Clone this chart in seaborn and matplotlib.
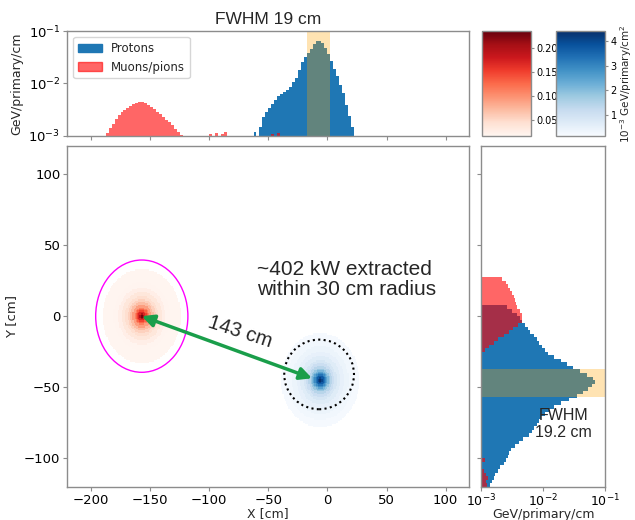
import numpy as np
import matplotlib
matplotlib.use("Agg")
import matplotlib.pyplot as plt
from matplotlib.patches import Ellipse, Patch
import seaborn as sns

# ---- data ----
bin_w = 2.5

# top panel, deposited energy along X (GeV/primary/cm), bins left to right
proton_x_start = -62.5
proton_x = [1.2e-3, 0.9e-3, 1.5e-3, 2.3e-3, 2.8e-3, 3.4e-3, 4.0e-3, 4.8e-3, 5.7e-3,
            6.4e-3, 6.9e-3, 7.5e-3, 8.6e-3, 1.05e-2, 1.3e-2, 1.8e-2, 2.6e-2, 3.2e-2,
            3.8e-2, 4.6e-2, 5.6e-2, 6.5e-2, 6.6e-2, 6.0e-2, 4.8e-2, 3.6e-2, 2.7e-2,
            1.9e-2, 1.4e-2, 9.5e-3, 6.5e-3, 3.8e-3, 2.4e-3, 1.5e-3]
muon_x_start = -187.5
muon_x = [1.15e-3, 1.4e-3, 1.7e-3, 2.1e-3, 2.45e-3, 2.8e-3, 3.1e-3, 3.45e-3, 3.75e-3,
          4.0e-3, 4.3e-3, 4.5e-3, 4.45e-3, 4.2e-3, 3.9e-3, 3.5e-3, 3.2e-3, 2.9e-3,
          2.6e-3, 2.3e-3, 2.0e-3, 1.8e-3, 1.6e-3, 1.35e-3, 1.2e-3, 1.05e-3]
muon_x_stray_pos = [-98.75, -93.75, -88.75, -86.25, -46.25, -41.25]
muon_x_stray = [1.1e-3, 1.15e-3, 1.1e-3, 1.2e-3, 1.1e-3, 1.15e-3]

# right panel, deposited energy along Y (GeV/primary/cm), bins top to bottom
proton_y_top = 7.5
proton_y = [2.6e-3, 3.2e-3, 3.8e-3, 4.2e-3, 4.5e-3, 5.0e-3, 5.6e-3, 6.2e-3, 7.0e-3,
            7.8e-3, 8.6e-3, 9.5e-3, 1.05e-2, 1.2e-2, 1.5e-2, 1.9e-2, 2.4e-2, 3.0e-2,
            3.9e-2, 5.0e-2, 6.3e-2, 6.8e-2, 6.0e-2, 5.2e-2, 4.4e-2, 3.5e-2, 2.6e-2,
            1.9e-2, 1.5e-2, 1.25e-2, 1.05e-2, 9.3e-3, 8.5e-3, 7.8e-3, 7.2e-3, 6.6e-3,
            5.8e-3, 4.8e-3, 4.1e-3, 3.5e-3, 3.0e-3, 2.8e-3, 2.7e-3, 2.5e-3, 2.3e-3,
            2.0e-3, 1.9e-3, 1.7e-3, 1.6e-3, 1.5e-3, 1.4e-3]
muon_y_top = 27.5
muon_y = [2.2e-3, 2.5e-3, 2.7e-3, 2.95e-3, 3.15e-3, 3.35e-3, 3.5e-3, 3.7e-3, 3.85e-3,
          4.2e-3, 4.6e-3, 4.6e-3, 4.5e-3, 3.9e-3, 3.3e-3, 2.8e-3, 2.3e-3, 1.9e-3,
          1.6e-3, 1.35e-3, 1.15e-3, 1.02e-3]
muon_y_stray_pos = [-101.25, -108.75, -111.25, -113.75, -116.25, -118.75]
muon_y_stray = [1.15e-3, 1.1e-3, 1.2e-3, 1.3e-3, 1.2e-3, 1.25e-3]

# 2D map, radial profiles around each spot (1e-3 GeV/primary/cm^2)
muon_center = (-157, 0)
muon_r_edges = [0, 1, 2, 3, 4, 5, 6, 8, 10, 12, 14, 17, 20, 24, 28, 33]
muon_r_vals = [0.23, 0.2, 0.17, 0.15, 0.13, 0.11, 0.09, 0.07, 0.055, 0.045,
               0.035, 0.025, 0.017, 0.01, 0.005]
proton_center = (-6, -45)
proton_r_edges = [0, 1, 2, 3, 4, 5, 6, 7, 8, 10, 12, 14, 17, 20, 24, 28, 33]
proton_r_vals = [4.4, 4.1, 3.7, 3.3, 2.9, 2.5, 2.1, 1.8, 1.4, 1.1, 0.85, 0.65, 0.5,
                 0.38, 0.28, 0.2]

fwhm_x = (-17.2, 2.3)
fwhm_y = (-56.6, -37.4)

# ---- style ----
sns.set_style("ticks", rc={
    "axes.edgecolor": "#8c8c8c", "xtick.color": "#8c8c8c", "ytick.color": "#8c8c8c",
})
plt.rcParams.update({
    "font.family": ["DejaVu Sans"], "font.size": 9.5, "axes.labelsize": 9.5,
    "xtick.labelsize": 9.5, "ytick.labelsize": 9.5,
    "xtick.labelcolor": "black", "ytick.labelcolor": "black",
    "xtick.major.size": 3, "ytick.major.size": 3,
    "xtick.major.pad": 2, "ytick.major.pad": 2, "axes.linewidth": 1.0,
})
arial = ["Liberation Sans", "DejaVu Sans"]
blue = "#1f77b4"

fig = plt.figure(figsize=(6.35, 5.2), dpi=100)
ax_main = fig.add_axes([0.106, 0.064, 0.633, 0.656])
ax_top = fig.add_axes([0.106, 0.739, 0.633, 0.201], sharex=ax_main)
ax_right = fig.add_axes([0.7575, 0.064, 0.196, 0.656], sharey=ax_main)
cax_r = fig.add_axes([0.759, 0.739, 0.077, 0.201])
cax_b = fig.add_axes([0.8756, 0.739, 0.077, 0.201])


def asc_bins(start, vals):
    edges = start + bin_w * np.arange(len(vals) + 1)
    return (edges[:-1] + bin_w / 2).tolist(), edges.tolist()


def desc_bins(top, vals):
    edges = top - bin_w * np.arange(len(vals) + 1)
    return (edges[:-1] - bin_w / 2).tolist(), edges[::-1].tolist()


# ---- top histogram ----
pc, pe = asc_bins(proton_x_start, proton_x)
mc, me = asc_bins(muon_x_start, muon_x)
sns.histplot(x=pc, weights=proton_x, bins=pe, element="step", fill=True,
             color=blue, alpha=1, linewidth=0, ax=ax_top)
sns.histplot(x=mc, weights=muon_x, bins=me, element="step", fill=True,
             color="red", alpha=0.6, linewidth=0, ax=ax_top)
sns.histplot(x=muon_x_stray_pos, weights=muon_x_stray, binwidth=bin_w,
             binrange=(-100, -40), element="step", fill=True,
             color="red", alpha=0.6, linewidth=0, ax=ax_top)
ax_top.axvspan(*fwhm_x, color="orange", alpha=0.3, linewidth=0)
ax_top.set_yscale("log")
ax_top.set_ylim(1e-3, 1e-1)
ax_top.minorticks_off()
ax_top.set_ylabel("GeV/primary/cm", fontsize=9)
ax_top.tick_params(labelbottom=False)
ax_top.set_title("FWHM 19 cm", fontsize=12.5, family=arial, pad=5)
ax_top.legend(handles=[Patch(color=blue, label="Protons"),
                       Patch(color="red", alpha=0.6, label="Muons/pions")],
              loc="upper left", fontsize=8.5, frameon=True)

# ---- right histogram ----
pyc, pye = desc_bins(proton_y_top, proton_y)
myc, mye = desc_bins(muon_y_top, muon_y)
sns.histplot(y=pyc, weights=proton_y, bins=pye, element="step", fill=True,
             color=blue, alpha=1, linewidth=0, ax=ax_right)
sns.histplot(y=myc, weights=muon_y, bins=mye, element="step", fill=True,
             color="red", alpha=0.6, linewidth=0, ax=ax_right)
sns.histplot(y=muon_y_stray_pos, weights=muon_y_stray, binwidth=bin_w,
             binrange=(-120, -100), element="step", fill=True,
             color="red", alpha=0.6, linewidth=0, ax=ax_right)
ax_right.axhspan(*fwhm_y, color="orange", alpha=0.3, linewidth=0)
ax_right.set_xscale("log")
ax_right.set_xlim(1e-3, 1e-1)
ax_right.minorticks_off()
ax_right.tick_params(axis="x", labelsize=9, pad=1.5)
ax_right.set_xlabel("GeV/primary/cm", fontsize=9, labelpad=-1)
ax_right.set_ylabel("")
ax_right.tick_params(labelleft=False)
ax_right.text(0.021, -76, "FWHM\n19.2 cm", ha="center", va="center",
              fontsize=11.5, family=arial)

# ---- 2D map ----
gx_edges = np.arange(-220, 121, 1)
gy_edges = np.arange(-120, 121, 1)
GX, GY = np.meshgrid(gx_edges[:-1] + 0.5, gy_edges[:-1] + 0.5)


def radial_weights(center, r_edges, r_vals):
    r = np.hypot(GX - center[0], GY - center[1])
    idx = np.digitize(r, r_edges) - 1
    vals = np.append(r_vals, 0.0)
    return vals[np.clip(idx, 0, len(r_vals))]


w_mu = radial_weights(muon_center, muon_r_edges, muon_r_vals)
w_p = radial_weights(proton_center, proton_r_edges, proton_r_vals)
grid_bins = (gx_edges.tolist(), gy_edges.tolist())

sns.histplot(x=GX.ravel(), y=GY.ravel(), weights=w_mu.ravel(),
             bins=grid_bins, cmap="Reds", vmin=0.016, vmax=0.236,
             thresh=0.001, ax=ax_main, cbar=True, cbar_ax=cax_r)
sns.histplot(x=GX.ravel(), y=GY.ravel(), weights=w_p.ravel(),
             bins=grid_bins, cmap="Blues", vmin=0.145, vmax=4.4,
             thresh=0.01, ax=ax_main, cbar=True, cbar_ax=cax_b)

ax_main.set_xlim(-220, 120)
ax_main.set_ylim(-120, 120)
ax_main.set_xticks([-200, -150, -100, -50, 0, 50, 100])
ax_main.set_yticks([-100, -50, 0, 50, 100])
ax_main.set_xlabel("X [cm]", fontsize=9, labelpad=0)
ax_main.set_ylabel("Y [cm]")

ax_main.add_patch(Ellipse(muon_center, 78, 79, fill=False, edgecolor="magenta", lw=1))
ax_main.add_patch(Ellipse((-7, -41), 59, 49, fill=False, edgecolor="black",
                          lw=1.5, linestyle=(0, (1, 1.6))))
ax_main.annotate("", xy=(-157, 0), xytext=(-13, -43.7),
                 arrowprops=dict(arrowstyle="<|-|>", color="#1a9e4a", lw=2.5,
                                 mutation_scale=18, shrinkA=0, shrinkB=0))
ax_main.text(-73.4, -10.8, "143 cm", rotation=-18, ha="center", va="center",
             fontsize=14.5, family=arial)
ax_main.text(-59.8, 39.5, "~402 kW extracted\nwithin 30 cm radius", ha="left",
             va="top", fontsize=15, family=arial, linespacing=1.05)

# ---- colorbars ----
cax_r.set_yticks([0.05, 0.10, 0.15, 0.20])
cax_r.set_yticklabels(["0.05", "0.10", "0.15", "0.20"])
cax_b.set_yticks([1, 2, 3, 4])
cax_b.set_ylabel(r"$10^{-3}$ GeV/primary/cm$^2$", fontsize=7.5, labelpad=1)
for cax in (cax_r, cax_b):
    cax.tick_params(labelsize=7, length=2.5, pad=1.5)
    for sp in cax.spines.values():
        sp.set_edgecolor("#8c8c8c")
for coll in ax_main.collections:
    if getattr(coll, "colorbar", None) is not None:
        coll.colorbar.outline.set_edgecolor("#8c8c8c")

fig.savefig("out.png", dpi=100)
